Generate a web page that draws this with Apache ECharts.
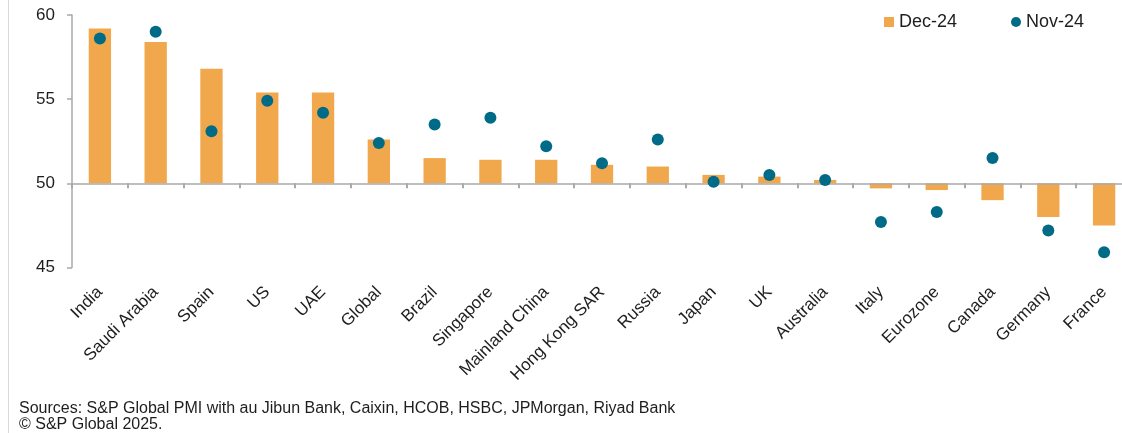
<!DOCTYPE html>
<html>
<head>
<meta charset="utf-8">
<script src="https://cdn.jsdelivr.net/npm/echarts@6/dist/echarts.min.js"></script>
<style>
  html, body { margin: 0; padding: 0; background: #ffffff; }
  #chart { width: 1122px; height: 433px; }
</style>
</head>
<body>
<div id="chart"></div>
<script>
// Composite PMI by economy
const categories = ['India', 'Saudi Arabia', 'Spain', 'US', 'UAE', 'Global', 'Brazil', 'Singapore',
  'Mainland China', 'Hong Kong SAR', 'Russia', 'Japan', 'UK', 'Australia', 'Italy', 'Eurozone',
  'Canada', 'Germany', 'France'];
const dec24 = [59.2, 58.4, 56.8, 55.4, 55.4, 52.6, 51.5, 51.4, 51.4, 51.1, 51.0, 50.5, 50.4, 50.2,
  49.7, 49.6, 49.0, 48.0, 47.5];
const nov24 = [58.6, 59.0, 53.1, 54.9, 54.2, 52.4, 53.5, 53.9, 52.2, 51.2, 52.6, 50.1, 50.5, 50.2,
  47.7, 48.3, 51.5, 47.2, 45.9];
const yTicks = [45, 50, 55, 60];
const seriesNames = ['Dec-24', 'Nov-24'];
const sourceLines = ['Sources: S&P Global PMI with au Jibun Bank, Caixin, HCOB, HSBC, JPMorgan, Riyad Bank',
  '\u00A9 S&P Global 2025.'];

// bars grow up or down from the no-change mark
const BASELINE = 50;

const ORANGE = '#F1A84C';
const TEAL = '#006B87';
const AXIS_GREY = '#A9A9A9';
const TEXT = '#1E1E1E';
const FONT = '"Liberation Sans", Arial, sans-serif';

const CANVAS_H = 433;
// the plot runs slightly past the right edge of the canvas
const GRID = { left: 72, top: 15, right: -10, bottom: 165.5, containLabel: false, outerBoundsMode: 'none' };
const plotHeight = CANVAS_H - GRID.top - GRID.bottom;
const yMin = yTicks[0], yMax = yTicks[yTicks.length - 1];
// the axis line sits at the baseline: shift the top axis down to it
const baselineOffset = -plotHeight * (yMax - BASELINE) / (yMax - yMin);

const chart = echarts.init(document.getElementById('chart'), null, { renderer: 'canvas' });

chart.setOption({
  animation: false,
  color: [ORANGE, TEAL],
  textStyle: { fontFamily: FONT },
  grid: GRID,
  legend: {
    left: 879, top: 8,
    itemWidth: 10, itemHeight: 10, itemGap: 54,
    textStyle: { fontSize: 18, color: TEXT, fontFamily: FONT },
    data: [{ name: seriesNames[0], icon: 'rect' }, { name: seriesNames[1], icon: 'circle' }]
  },
  xAxis: [
    {
      // category labels along the bottom of the plot
      type: 'category', data: categories, position: 'bottom',
      axisLine: { show: false }, axisTick: { show: false },
      axisLabel: { interval: 0, rotate: 45, margin: 22, fontSize: 17, color: TEXT, fontFamily: FONT }
    },
    {
      // baseline axis: one tick on every category boundary (0 .. n)
      type: 'value', min: 0, max: categories.length, interval: 1,
      position: 'top', offset: baselineOffset, z: 3,
      axisLine: { show: true, onZero: false, lineStyle: { color: AXIS_GREY, width: 1.5 } },
      axisTick: { show: true, inside: true, length: 5, lineStyle: { color: AXIS_GREY, width: 2 } },
      axisLabel: { show: false },
      splitLine: { show: false }
    }
  ],
  yAxis: {
    type: 'value', min: yMin, max: yMax, interval: 5,
    axisLine: { show: true, onZero: false, lineStyle: { color: AXIS_GREY, width: 1.5 } },
    axisTick: { show: true, length: 5, lineStyle: { color: AXIS_GREY, width: 1.5 } },
    splitLine: { show: false },
    axisLabel: { fontSize: 17, color: TEXT, margin: 17, fontFamily: FONT }
  },
  series: [
    {
      name: seriesNames[0], type: 'custom', z: 2, xAxisIndex: 0,
      itemStyle: { color: ORANGE },
      encode: { x: 0, y: 1 },
      data: dec24.map((v, i) => [i, v]),
      renderItem: (params, api) => {
        const i = api.value(0), v = api.value(1);
        const end = api.coord([i, v]);
        const base = api.coord([i, BASELINE]);
        const w = api.size([1, 0])[0] * 0.4;
        return {
          type: 'rect',
          shape: { x: end[0] - w / 2, y: Math.min(end[1], base[1]), width: w, height: Math.abs(base[1] - end[1]) },
          style: { fill: ORANGE }
        };
      }
    },
    {
      name: seriesNames[1], type: 'scatter', z: 5, xAxisIndex: 0,
      symbol: 'circle', symbolSize: 12,
      itemStyle: { color: TEAL, opacity: 1 },
      data: nov24.map((v, i) => [i, v])
    }
  ],
  graphic: [
    { type: 'line', silent: true, shape: { x1: 8.5, y1: 0, x2: 8.5, y2: CANVAS_H }, style: { stroke: '#D9D9D9', lineWidth: 1 } },
    {
      type: 'text', left: 19, top: 401, silent: true,
      style: { text: sourceLines.join('\n'), font: '16px ' + FONT, lineHeight: 16, fill: TEXT }
    }
  ]
});
</script>
</body>
</html>
